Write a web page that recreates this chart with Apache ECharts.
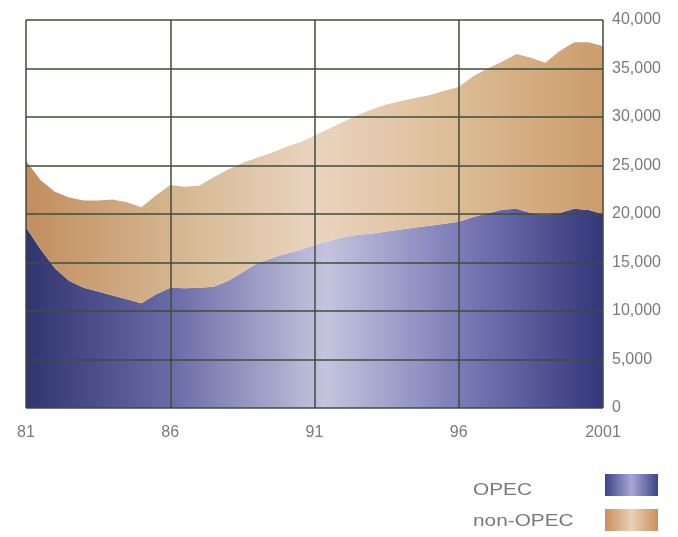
<!DOCTYPE html>
<html><head><meta charset="utf-8">
<script src="https://cdn.jsdelivr.net/npm/echarts@6/dist/echarts.min.js"></script>
<style>html,body{margin:0;padding:0;background:#fff}#c{width:678px;height:537px}</style>
</head><body><div id="c"></div>
<script>
// Half-year steps from 1981 to 2001
const periods = ['1981','1981.5','1982','1982.5','1983','1983.5','1984','1984.5','1985','1985.5',
  '1986','1986.5','1987','1987.5','1988','1988.5','1989','1989.5','1990','1990.5',
  '1991','1991.5','1992','1992.5','1993','1993.5','1994','1994.5','1995','1995.5',
  '1996','1996.5','1997','1997.5','1998','1998.5','1999','1999.5','2000','2000.5','2001'];
const opec = [18600,16400,14400,13100,12400,12000,11600,11200,10800,11700,
  12400,12350,12400,12500,13100,14000,14900,15450,15900,16300,
  16800,17250,17600,17850,18000,18200,18400,18600,18800,19000,
  19200,19700,20050,20450,20550,20100,19900,20100,20550,20400,20000];
const nonOpec = [6900,7100,7900,8600,9000,9400,9900,10000,9900,10200,
  10600,10450,10500,11300,11500,11250,10900,10850,11000,11100,
  11300,11550,11900,12350,12800,13100,13250,13350,13470,13700,
  13900,14500,14950,15250,15950,16000,15700,16700,17150,17300,17300];
const xTickLabels = {'1981':'81','1986':'86','1991':'91','1996':'96','2001':'2001'};
const yTicks = [0,5000,10000,15000,20000,25000,30000,35000,40000];
const seriesNames = ['OPEC','non-OPEC'];

const opecGrad = new echarts.graphic.LinearGradient(0,0,1,0,[
  {offset:0,color:'#30356f'},{offset:0.25,color:'#6a6aa6'},{offset:0.52,color:'#c4c4de'},
  {offset:0.75,color:'#7c7cb8'},{offset:1,color:'#33367a'}]);
const nonGrad = new echarts.graphic.LinearGradient(0,0,1,0,[
  {offset:0,color:'#c28e5e'},{offset:0.3,color:'#d8bc98'},{offset:0.5,color:'#ead4c0'},
  {offset:0.75,color:'#dcbc94'},{offset:1,color:'#cc9c6c'}]);
const opecLeg = new echarts.graphic.LinearGradient(0,0,1,0,[
  {offset:0,color:'#3a4488'},{offset:0.5,color:'#a8a8d4'},{offset:1,color:'#3a4488'}]);
const nonLeg = new echarts.graphic.LinearGradient(0,0,1,0,[
  {offset:0,color:'#c8905c'},{offset:0.5,color:'#ead0b8'},{offset:1,color:'#c8905c'}]);

function legendText(t, y){
  return {type:'text',x:473,y:y,scaleX:1.3,
    style:{text:t,x:0,y:0,fill:'#7a7a7a',font:'16px "Liberation Sans"',verticalAlign:'middle',align:'left'}};
}
const chart = echarts.init(document.getElementById('c'));
chart.setOption({
  animation:false,
  backgroundColor:'#fff',
  grid:{left:26,right:75,top:20,bottom:129,containLabel:false},
  xAxis:{
    type:'category',data:periods,boundaryGap:false,z:5,
    axisLine:{show:false},axisTick:{show:false},
    axisLabel:{interval:function(i){return i%10===0;},margin:17,color:'#7a7a7a',
      fontFamily:'Liberation Sans',fontSize:16,formatter:function(v){return xTickLabels[v]||'';}},
    splitLine:{show:true,interval:function(i){return i%10===0;},lineStyle:{color:'#3e4c3e',width:1.5}}
  },
  yAxis:{
    type:'value',position:'right',min:0,max:40000,interval:5000,z:5,
    axisLine:{show:false},axisTick:{show:false},
    axisLabel:{margin:9,color:'#7a7a7a',fontFamily:'Liberation Sans',fontSize:16,padding:[0,0,6,0],
      formatter:function(v){return yTicks.indexOf(v)>=0?v.toLocaleString('en-US'):'';}},
    splitLine:{show:true,lineStyle:{color:'#3e4c3e',width:1.5}}
  },
  graphic:[
    legendText(seriesNames[0], 491),
    {type:'rect',x:605,y:474,shape:{width:53,height:22},style:{fill:opecLeg}},
    legendText(seriesNames[1], 522),
    {type:'rect',x:605,y:509,shape:{width:53,height:22},style:{fill:nonLeg}}
  ],
  series:[
    {name:seriesNames[0],type:'line',stack:'total',data:opec,showSymbol:false,symbol:'none',
      lineStyle:{width:0},itemStyle:{color:opecLeg},areaStyle:{color:opecGrad,opacity:1},z:1},
    {name:seriesNames[1],type:'line',stack:'total',data:nonOpec,showSymbol:false,symbol:'none',
      lineStyle:{width:0},itemStyle:{color:nonLeg},areaStyle:{color:nonGrad,opacity:1},z:1}
  ]
});
</script></body></html>
